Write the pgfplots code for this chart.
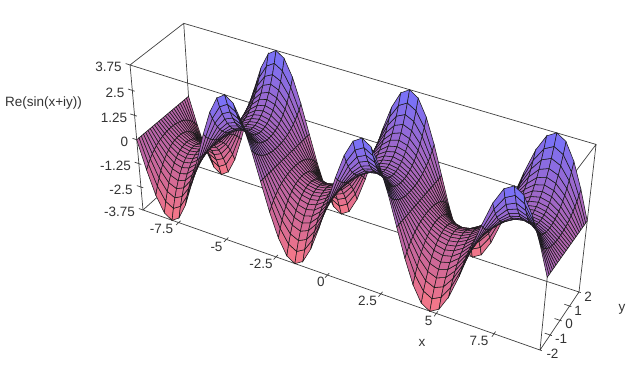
\documentclass[border=0pt]{standalone}
\usepackage{pgfplots}
\pgfplotsset{compat=1.18}
\usepackage{fontspec}
\setmainfont{Liberation Sans}
\pgfplotsset{colormap={msurf}{rgb255(0)=(250,122,135) rgb255(1)=(208,104,150) rgb255(2)=(180,100,172) rgb255(3)=(150,105,212) rgb255(4)=(115,115,255)}}
\pgfmathdeclarefunction{uu}{1}{\pgfmathparse{(#1+9.4248)/18.8496}}
\pgfmathdeclarefunction{vv}{1}{\pgfmathparse{(#1+2)/4}}
\pgfmathdeclarefunction{ww}{1}{\pgfmathparse{(#1+3.75)/7.5}}
\pgfmathdeclarefunction{prD}{3}{\pgfmathparse{1-0.1324*uu(#1)+0.0419*vv(#2)-0.0611*ww(#3)}}
\pgfmathdeclarefunction{prX}{3}{\pgfmathparse{(143+325.5*uu(#1)+58.1*vv(#2)-20.9*ww(#3))/prD(#1,#2,#3)}}
\pgfmathdeclarefunction{prY}{3}{\pgfmathparse{-(210+93.7*uu(#1)-38.1*vv(#2)-149*ww(#3))/prD(#1,#2,#3)-7*uu(#1)*ww(#3)}}
\def\KK{floor((\coordindex+0.5)/25)}
\def\XV{(-9.4248+\KK*0.3927)}
\def\YV{(-2+(\coordindex-25*\KK)/6)}
\def\LX{prX(\thisrow{x},\thisrow{y},\thisrow{z})}
\def\LY{prY(\thisrow{x},\thisrow{y},\thisrow{z})}
\begin{document}
\begin{tikzpicture}
\begin{axis}[view={0}{90},hide axis,scale only axis,width=640pt,height=377pt,
 xmin=0,xmax=640,ymin=-377,ymax=0,zmin=-1.2,zmax=0,clip=false,
 unbounded coords=jump]
\addplot3[black!75,line width=0.7pt,no marks,empty line=jump] table[x expr=\LX,y expr=\LY,z expr=-1] {
x y z
-9.4248 -2 -3.75
9.4248 -2 -3.75
9.4248 2 -3.75
-9.4248 2 -3.75
-9.4248 -2 -3.75
-9.4248 -2 3.75
9.4248 -2 3.75
9.4248 2 3.75
-9.4248 2 3.75
-9.4248 -2 3.75

9.4248 -2 -3.75
9.4248 -2 3.75

9.4248 2 -3.75
9.4248 2 3.75

-9.4248 2 -3.75
-9.4248 2 3.75

-7.5 -2.2 -3.75
-7.5 -1.85 -3.75

-5 -2.2 -3.75
-5 -1.85 -3.75

-2.5 -2.2 -3.75
-2.5 -1.85 -3.75

0 -2.2 -3.75
0 -1.85 -3.75

2.5 -2.2 -3.75
2.5 -1.85 -3.75

5 -2.2 -3.75
5 -1.85 -3.75

7.5 -2.2 -3.75
7.5 -1.85 -3.75

9.2 -2 -3.75
9.5 -2 -3.75

9.2 -1 -3.75
9.5 -1 -3.75

9.2 0 -3.75
9.5 0 -3.75

9.2 1 -3.75
9.5 1 -3.75

9.2 2 -3.75
9.5 2 -3.75

-9.65 -2 -3.75
-9.3 -2 -3.75

-9.65 -2 -2.5
-9.3 -2 -2.5

-9.65 -2 -1.25
-9.3 -2 -1.25

-9.65 -2 0
-9.3 -2 0

-9.65 -2 1.25
-9.3 -2 1.25

-9.65 -2 2.5
-9.3 -2 2.5

-9.65 -2 3.75
-9.3 -2 3.75
};
\addplot3[surf,shader=flat mean,z buffer=sort,draw=black!90,line width=0.55pt,mesh/cols=25,mesh/rows=49,
 colormap name=msurf,point meta=\thisrow{z},point meta min=-3.76,point meta max=3.76]
 table[row sep=crcr,x expr={prX(\XV,\YV,\thisrow{z})},y expr={prY(\XV,\YV,\thisrow{z})},z expr={-prD(\XV,\YV,\thisrow{z})}] {
z\\
0\\0\\0\\0\\0\\0\\0\\0\\0\\0\\0\\0\\0\\0\\0\\0\\0\\0\\0\\0\\0\\0\\0\\0\\0\\
-1.44\\-1.23\\-1.05\\-.9\\-.78\\-.67\\-.59\\-.52\\-.47\\-.43\\-.4\\-.39\\-.38\\-.39\\-.4\\-.43\\-.47\\-.52\\-.59\\-.67\\-.78\\-.9\\-1.05\\-1.23\\-1.44\\
-2.66\\-2.27\\-1.94\\-1.66\\-1.43\\-1.25\\-1.09\\-.97\\-.87\\-.8\\-.75\\-.72\\-.71\\-.72\\-.75\\-.8\\-.87\\-.97\\-1.09\\-1.25\\-1.43\\-1.66\\-1.94\\-2.27\\-2.66\\
-3.48\\-2.96\\-2.53\\-2.17\\-1.87\\-1.63\\-1.43\\-1.26\\-1.14\\-1.04\\-.98\\-.94\\-.92\\-.94\\-.98\\-1.04\\-1.14\\-1.26\\-1.43\\-1.63\\-1.87\\-2.17\\-2.53\\-2.96\\-3.48\\
-3.76\\-3.21\\-2.74\\-2.35\\-2.03\\-1.76\\-1.54\\-1.37\\-1.23\\-1.13\\-1.06\\-1.01\\-1\\-1.01\\-1.06\\-1.13\\-1.23\\-1.37\\-1.54\\-1.76\\-2.03\\-2.35\\-2.74\\-3.21\\-3.76\\
-3.48\\-2.96\\-2.53\\-2.17\\-1.87\\-1.63\\-1.43\\-1.26\\-1.14\\-1.04\\-.98\\-.94\\-.92\\-.94\\-.98\\-1.04\\-1.14\\-1.26\\-1.43\\-1.63\\-1.87\\-2.17\\-2.53\\-2.96\\-3.48\\
-2.66\\-2.27\\-1.94\\-1.66\\-1.43\\-1.25\\-1.09\\-.97\\-.87\\-.8\\-.75\\-.72\\-.71\\-.72\\-.75\\-.8\\-.87\\-.97\\-1.09\\-1.25\\-1.43\\-1.66\\-1.94\\-2.27\\-2.66\\
-1.44\\-1.23\\-1.05\\-.9\\-.78\\-.67\\-.59\\-.52\\-.47\\-.43\\-.4\\-.39\\-.38\\-.39\\-.4\\-.43\\-.47\\-.52\\-.59\\-.67\\-.78\\-.9\\-1.05\\-1.23\\-1.44\\
0\\0\\0\\0\\0\\0\\0\\0\\0\\0\\0\\0\\0\\0\\0\\0\\0\\0\\0\\0\\0\\0\\0\\0\\0\\
1.44\\1.23\\1.05\\.9\\.78\\.67\\.59\\.52\\.47\\.43\\.4\\.39\\.38\\.39\\.4\\.43\\.47\\.52\\.59\\.67\\.78\\.9\\1.05\\1.23\\1.44\\
2.66\\2.27\\1.94\\1.66\\1.43\\1.25\\1.09\\.97\\.87\\.8\\.75\\.72\\.71\\.72\\.75\\.8\\.87\\.97\\1.09\\1.25\\1.43\\1.66\\1.94\\2.27\\2.66\\
3.48\\2.96\\2.53\\2.17\\1.87\\1.63\\1.43\\1.26\\1.14\\1.04\\.98\\.94\\.92\\.94\\.98\\1.04\\1.14\\1.26\\1.43\\1.63\\1.87\\2.17\\2.53\\2.96\\3.48\\
3.76\\3.21\\2.74\\2.35\\2.03\\1.76\\1.54\\1.37\\1.23\\1.13\\1.06\\1.01\\1\\1.01\\1.06\\1.13\\1.23\\1.37\\1.54\\1.76\\2.03\\2.35\\2.74\\3.21\\3.76\\
3.48\\2.96\\2.53\\2.17\\1.87\\1.63\\1.43\\1.26\\1.14\\1.04\\.98\\.94\\.92\\.94\\.98\\1.04\\1.14\\1.26\\1.43\\1.63\\1.87\\2.17\\2.53\\2.96\\3.48\\
2.66\\2.27\\1.94\\1.66\\1.43\\1.25\\1.09\\.97\\.87\\.8\\.75\\.72\\.71\\.72\\.75\\.8\\.87\\.97\\1.09\\1.25\\1.43\\1.66\\1.94\\2.27\\2.66\\
1.44\\1.23\\1.05\\.9\\.78\\.67\\.59\\.52\\.47\\.43\\.4\\.39\\.38\\.39\\.4\\.43\\.47\\.52\\.59\\.67\\.78\\.9\\1.05\\1.23\\1.44\\
0\\0\\0\\0\\0\\0\\0\\0\\0\\0\\0\\0\\0\\0\\0\\0\\0\\0\\0\\0\\0\\0\\0\\0\\0\\
-1.44\\-1.23\\-1.05\\-.9\\-.78\\-.67\\-.59\\-.52\\-.47\\-.43\\-.4\\-.39\\-.38\\-.39\\-.4\\-.43\\-.47\\-.52\\-.59\\-.67\\-.78\\-.9\\-1.05\\-1.23\\-1.44\\
-2.66\\-2.27\\-1.94\\-1.66\\-1.43\\-1.25\\-1.09\\-.97\\-.87\\-.8\\-.75\\-.72\\-.71\\-.72\\-.75\\-.8\\-.87\\-.97\\-1.09\\-1.25\\-1.43\\-1.66\\-1.94\\-2.27\\-2.66\\
-3.48\\-2.96\\-2.53\\-2.17\\-1.87\\-1.63\\-1.43\\-1.26\\-1.14\\-1.04\\-.98\\-.94\\-.92\\-.94\\-.98\\-1.04\\-1.14\\-1.26\\-1.43\\-1.63\\-1.87\\-2.17\\-2.53\\-2.96\\-3.48\\
-3.76\\-3.21\\-2.74\\-2.35\\-2.03\\-1.76\\-1.54\\-1.37\\-1.23\\-1.13\\-1.06\\-1.01\\-1\\-1.01\\-1.06\\-1.13\\-1.23\\-1.37\\-1.54\\-1.76\\-2.03\\-2.35\\-2.74\\-3.21\\-3.76\\
-3.48\\-2.96\\-2.53\\-2.17\\-1.87\\-1.63\\-1.43\\-1.26\\-1.14\\-1.04\\-.98\\-.94\\-.92\\-.94\\-.98\\-1.04\\-1.14\\-1.26\\-1.43\\-1.63\\-1.87\\-2.17\\-2.53\\-2.96\\-3.48\\
-2.66\\-2.27\\-1.94\\-1.66\\-1.43\\-1.25\\-1.09\\-.97\\-.87\\-.8\\-.75\\-.72\\-.71\\-.72\\-.75\\-.8\\-.87\\-.97\\-1.09\\-1.25\\-1.43\\-1.66\\-1.94\\-2.27\\-2.66\\
-1.44\\-1.23\\-1.05\\-.9\\-.78\\-.67\\-.59\\-.52\\-.47\\-.43\\-.4\\-.39\\-.38\\-.39\\-.4\\-.43\\-.47\\-.52\\-.59\\-.67\\-.78\\-.9\\-1.05\\-1.23\\-1.44\\
0\\0\\0\\0\\0\\0\\0\\0\\0\\0\\0\\0\\0\\0\\0\\0\\0\\0\\0\\0\\0\\0\\0\\0\\0\\
1.44\\1.23\\1.05\\.9\\.78\\.67\\.59\\.52\\.47\\.43\\.4\\.39\\.38\\.39\\.4\\.43\\.47\\.52\\.59\\.67\\.78\\.9\\1.05\\1.23\\1.44\\
2.66\\2.27\\1.94\\1.66\\1.43\\1.25\\1.09\\.97\\.87\\.8\\.75\\.72\\.71\\.72\\.75\\.8\\.87\\.97\\1.09\\1.25\\1.43\\1.66\\1.94\\2.27\\2.66\\
3.48\\2.96\\2.53\\2.17\\1.87\\1.63\\1.43\\1.26\\1.14\\1.04\\.98\\.94\\.92\\.94\\.98\\1.04\\1.14\\1.26\\1.43\\1.63\\1.87\\2.17\\2.53\\2.96\\3.48\\
3.76\\3.21\\2.74\\2.35\\2.03\\1.76\\1.54\\1.37\\1.23\\1.13\\1.06\\1.01\\1\\1.01\\1.06\\1.13\\1.23\\1.37\\1.54\\1.76\\2.03\\2.35\\2.74\\3.21\\3.76\\
3.48\\2.96\\2.53\\2.17\\1.87\\1.63\\1.43\\1.26\\1.14\\1.04\\.98\\.94\\.92\\.94\\.98\\1.04\\1.14\\1.26\\1.43\\1.63\\1.87\\2.17\\2.53\\2.96\\3.48\\
2.66\\2.27\\1.94\\1.66\\1.43\\1.25\\1.09\\.97\\.87\\.8\\.75\\.72\\.71\\.72\\.75\\.8\\.87\\.97\\1.09\\1.25\\1.43\\1.66\\1.94\\2.27\\2.66\\
1.44\\1.23\\1.05\\.9\\.78\\.67\\.59\\.52\\.47\\.43\\.4\\.39\\.38\\.39\\.4\\.43\\.47\\.52\\.59\\.67\\.78\\.9\\1.05\\1.23\\1.44\\
0\\0\\0\\0\\0\\0\\0\\0\\0\\0\\0\\0\\0\\0\\0\\0\\0\\0\\0\\0\\0\\0\\0\\0\\0\\
-1.44\\-1.23\\-1.05\\-.9\\-.78\\-.67\\-.59\\-.52\\-.47\\-.43\\-.4\\-.39\\-.38\\-.39\\-.4\\-.43\\-.47\\-.52\\-.59\\-.67\\-.78\\-.9\\-1.05\\-1.23\\-1.44\\
-2.66\\-2.27\\-1.94\\-1.66\\-1.43\\-1.25\\-1.09\\-.97\\-.87\\-.8\\-.75\\-.72\\-.71\\-.72\\-.75\\-.8\\-.87\\-.97\\-1.09\\-1.25\\-1.43\\-1.66\\-1.94\\-2.27\\-2.66\\
-3.48\\-2.96\\-2.53\\-2.17\\-1.87\\-1.63\\-1.43\\-1.26\\-1.14\\-1.04\\-.98\\-.94\\-.92\\-.94\\-.98\\-1.04\\-1.14\\-1.26\\-1.43\\-1.63\\-1.87\\-2.17\\-2.53\\-2.96\\-3.48\\
-3.76\\-3.21\\-2.74\\-2.35\\-2.03\\-1.76\\-1.54\\-1.37\\-1.23\\-1.13\\-1.06\\-1.01\\-1\\-1.01\\-1.06\\-1.13\\-1.23\\-1.37\\-1.54\\-1.76\\-2.03\\-2.35\\-2.74\\-3.21\\-3.76\\
-3.48\\-2.96\\-2.53\\-2.17\\-1.87\\-1.63\\-1.43\\-1.26\\-1.14\\-1.04\\-.98\\-.94\\-.92\\-.94\\-.98\\-1.04\\-1.14\\-1.26\\-1.43\\-1.63\\-1.87\\-2.17\\-2.53\\-2.96\\-3.48\\
-2.66\\-2.27\\-1.94\\-1.66\\-1.43\\-1.25\\-1.09\\-.97\\-.87\\-.8\\-.75\\-.72\\-.71\\-.72\\-.75\\-.8\\-.87\\-.97\\-1.09\\-1.25\\-1.43\\-1.66\\-1.94\\-2.27\\-2.66\\
-1.44\\-1.23\\-1.05\\-.9\\-.78\\-.67\\-.59\\-.52\\-.47\\-.43\\-.4\\-.39\\-.38\\-.39\\-.4\\-.43\\-.47\\-.52\\-.59\\-.67\\-.78\\-.9\\-1.05\\-1.23\\-1.44\\
0\\0\\0\\0\\0\\0\\0\\0\\0\\0\\0\\0\\0\\0\\0\\0\\0\\0\\0\\0\\0\\0\\0\\0\\0\\
1.44\\1.23\\1.05\\.9\\.78\\.67\\.59\\.52\\.47\\.43\\.4\\.39\\.38\\.39\\.4\\.43\\.47\\.52\\.59\\.67\\.78\\.9\\1.05\\1.23\\1.44\\
2.66\\2.27\\1.94\\1.66\\1.43\\1.25\\1.09\\.97\\.87\\.8\\.75\\.72\\.71\\.72\\.75\\.8\\.87\\.97\\1.09\\1.25\\1.43\\1.66\\1.94\\2.27\\2.66\\
3.48\\2.96\\2.53\\2.17\\1.87\\1.63\\1.43\\1.26\\1.14\\1.04\\.98\\.94\\.92\\.94\\.98\\1.04\\1.14\\1.26\\1.43\\1.63\\1.87\\2.17\\2.53\\2.96\\3.48\\
3.76\\3.21\\2.74\\2.35\\2.03\\1.76\\1.54\\1.37\\1.23\\1.13\\1.06\\1.01\\1\\1.01\\1.06\\1.13\\1.23\\1.37\\1.54\\1.76\\2.03\\2.35\\2.74\\3.21\\3.76\\
3.48\\2.96\\2.53\\2.17\\1.87\\1.63\\1.43\\1.26\\1.14\\1.04\\.98\\.94\\.92\\.94\\.98\\1.04\\1.14\\1.26\\1.43\\1.63\\1.87\\2.17\\2.53\\2.96\\3.48\\
2.66\\2.27\\1.94\\1.66\\1.43\\1.25\\1.09\\.97\\.87\\.8\\.75\\.72\\.71\\.72\\.75\\.8\\.87\\.97\\1.09\\1.25\\1.43\\1.66\\1.94\\2.27\\2.66\\
1.44\\1.23\\1.05\\.9\\.78\\.67\\.59\\.52\\.47\\.43\\.4\\.39\\.38\\.39\\.4\\.43\\.47\\.52\\.59\\.67\\.78\\.9\\1.05\\1.23\\1.44\\
0\\0\\0\\0\\0\\0\\0\\0\\0\\0\\0\\0\\0\\0\\0\\0\\0\\0\\0\\0\\0\\0\\0\\0\\0\\
};
\tikzset{lab/.style={font=\fontsize{13.5}{15}\selectfont,text=black!80,inner sep=0pt,anchor=center}}
\path (axis cs:0,0,-1) -- (axis cs:640,-377,-1);
\node[lab] at (axis cs:108.5,-67,-1) {3.75};
\node[lab] at (axis cs:115,-93,-1) {2.5};
\node[lab] at (axis cs:114,-118,-1) {1.25};
\node[lab] at (axis cs:124.5,-142,-1) {0};
\node[lab] at (axis cs:115.5,-166,-1) {-1.25};
\node[lab] at (axis cs:121,-190,-1) {-2.5};
\node[lab] at (axis cs:119.5,-212,-1) {-3.75};
\node[lab] at (axis cs:43.5,-103,-1) {Re(sin(x+iy))};
\node[lab] at (axis cs:161.5,-229,-1) {-7.5};
\node[lab] at (axis cs:216.5,-247,-1) {-5};
\node[lab] at (axis cs:261,-264,-1) {-2.5};
\node[lab] at (axis cs:321,-282,-1) {0};
\node[lab] at (axis cs:367.5,-301,-1) {2.5};
\node[lab] at (axis cs:428.5,-321,-1) {5};
\node[lab] at (axis cs:479,-341,-1) {7.5};
\node[lab] at (axis cs:422,-343,-1) {x};
\node[lab] at (axis cs:622,-309,-1) {y};
\node[lab] at (axis cs:552.5,-354,-1) {-2};
\node[lab] at (axis cs:561,-339,-1) {-1};
\node[lab] at (axis cs:569,-324,-1) {0};
\node[lab] at (axis cs:578,-311,-1) {1};
\node[lab] at (axis cs:588,-297,-1) {2};
\end{axis}
\end{tikzpicture}
\end{document}
